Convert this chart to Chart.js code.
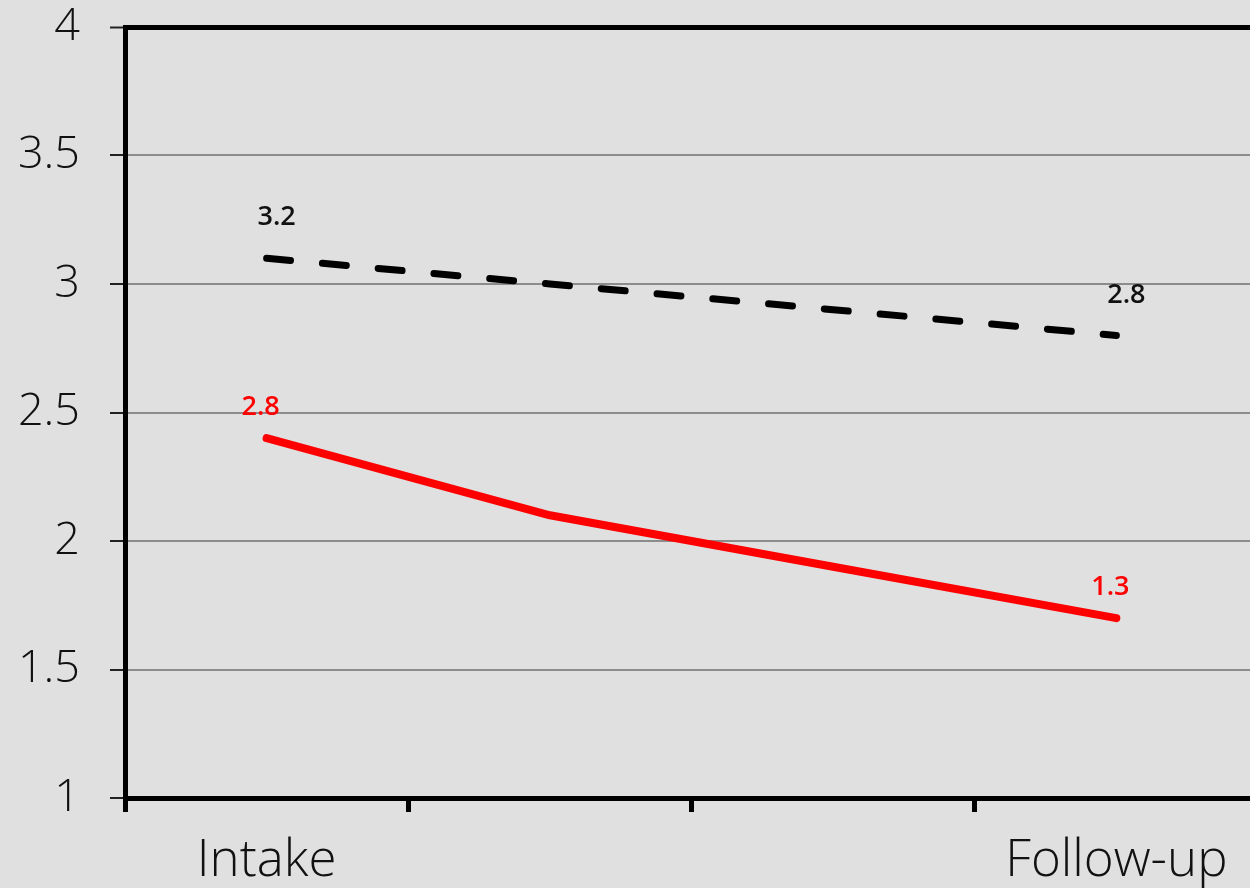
<!DOCTYPE html>
<html>
<head>
<meta charset="utf-8">
<script src="https://cdn.jsdelivr.net/npm/chart.js@4.4.1/dist/chart.umd.min.js"></script>
<style>
  html, body { margin: 0; padding: 0; background: #e0e0e0; overflow: hidden; }
  #wrap { width: 1258px; height: 888px; }
</style>
</head>
<body>
<div id="wrap"><canvas id="c" width="1258" height="888"></canvas></div>
<script>
// Time points (only the first and last are labelled on the axis)
const categories = ['Intake', '', '', 'Follow-up'];
// Plotted series
const dashedSeries = [3.1, 3.0, 2.9, 2.8];
const redSeries = [2.4, 2.1, 1.9, 1.7];
// Annotations printed next to the end points
const dashedNotes = ['3.2', '', '', '2.8'];
const redNotes = ['2.8', '', '', '1.3'];
// Y axis
const yMin = 1, yMax = 4, yStep = 0.5;

const axisFont = '"Open Sans", sans-serif';

const noteStyles = [
  { color: '#111', dx: 10, dy: -27 },
  { color: '#ff0000', dx: -6, dy: -17 }
];

const pointNotes = {
  id: 'pointNotes',
  afterDatasetsDraw(chart) {
    const ctx = chart.ctx;
    ctx.save();
    ctx.font = '600 27px "Open Sans", sans-serif';
    ctx.textAlign = 'center';
    ctx.textBaseline = 'bottom';
    chart.data.datasets.forEach((ds, i) => {
      const meta = chart.getDatasetMeta(i);
      const st = noteStyles[i];
      ds.notes.forEach((txt, j) => {
        if (!txt) return;
        const p = meta.data[j];
        ctx.fillStyle = st.color;
        ctx.fillText(txt, p.x + st.dx, p.y + st.dy);
      });
    });
    ctx.restore();
  }
};

new Chart(document.getElementById('c'), {
  type: 'line',
  data: {
    labels: categories,
    datasets: [
      {
        data: dashedSeries,
        notes: dashedNotes,
        borderColor: '#000',
        borderWidth: 7,
        borderDash: [24, 32],
        borderCapStyle: 'round',
        pointRadius: 0,
        tension: 0
      },
      {
        data: redSeries,
        notes: redNotes,
        borderColor: '#ff0000',
        borderWidth: 8,
        borderCapStyle: 'round',
        borderJoinStyle: 'round',
        pointRadius: 0,
        tension: 0
      }
    ]
  },
  options: {
    responsive: false,
    animation: false,
    layout: { padding: { top: 27, right: 0, left: 0, bottom: 0 } },
    plugins: { legend: { display: false }, tooltip: { enabled: false } },
    scales: {
      x: {
        offset: true,
        grid: {
          offset: true,
          drawOnChartArea: false,
          drawTicks: true,
          tickLength: 14,
          tickWidth: 5,
          tickColor: '#000'
        },
        border: { display: true, color: '#000', width: 5 },
        ticks: {
          color: '#111',
          font: { family: axisFont, size: 51, weight: '300' },
          padding: 19,
          maxRotation: 0,
          autoSkip: false
        },
        afterFit(scale) { scale.height = 90; scale.paddingLeft = 0; scale.paddingRight = 0; }
      },
      y: {
        min: yMin,
        max: yMax,
        grid: {
          color: c => (c.tick && c.tick.value === yMax) ? '#000' : '#8c8c8c',
          lineWidth: c => (c.tick && c.tick.value === yMax) ? 5 : 2,
          tickLength: 15,
          tickWidth: 2,
          tickColor: '#222'
        },
        border: { display: true, color: '#000', width: 5 },
        ticks: {
          stepSize: yStep,
          color: '#111',
          font: { family: axisFont, size: 45, weight: '300' },
          padding: 30,
          callback: v => String(v)
        },
        afterFit(scale) { scale.width = 125; scale.paddingTop = 0; scale.paddingBottom = 0; }
      }
    }
  },
  plugins: [pointNotes]
});
</script>
</body>
</html>
